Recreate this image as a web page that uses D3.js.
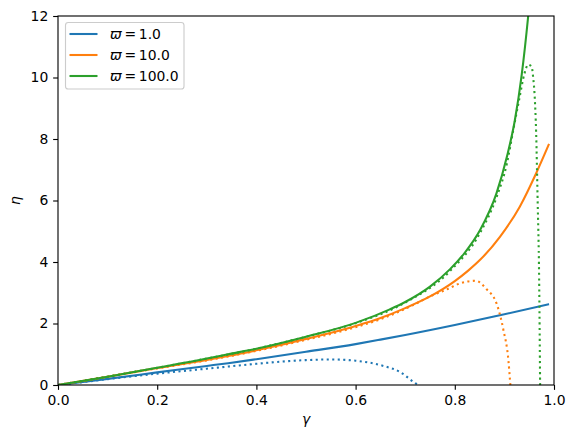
<html>
<head>
  <title>eta vs gamma</title>
  <script src="https://d3js.org/d3.v7.min.js"></script>
  <style>
    body { margin: 0; background: #fff; }
    svg text { font-family: "DejaVu Sans", sans-serif; fill: #000; }
  </style>
</head>
<body>
<script>
// values
var omegaLabels = ["1.0", "10.0", "100.0"];
var colors = ["#1f77b4", "#ff7f0e", "#2ca02c"];

var gammaBlueSolid = [0, 0.1, 0.2, 0.3, 0.343, 0.4, 0.5, 0.6, 0.65, 0.7, 0.8, 0.9, 0.99];
var etaBlueSolid   = [0, 0.2, 0.41, 0.62, 0.71, 0.84, 1.08, 1.33, 1.475, 1.625, 1.95, 2.3, 2.63];

var gammaBlueDot = [0, 0.1, 0.2, 0.3, 0.343, 0.4, 0.45, 0.5, 0.55, 0.6, 0.656, 0.69, 0.716, 0.726];
var etaBlueDot   = [0, 0.19, 0.37, 0.53, 0.6, 0.69, 0.76, 0.81, 0.83, 0.79, 0.62, 0.42, 0.11, 0];

var gammaOrangeSolid = [0, 0.1, 0.2, 0.3, 0.343, 0.4, 0.5, 0.6, 0.649, 0.7, 0.75, 0.8, 0.827, 0.851, 0.891, 0.931, 0.965, 0.99];
var etaOrangeSolid   = [0, 0.27, 0.55, 0.81, 0.94, 1.13, 1.5, 1.92, 2.17, 2.5, 2.88, 3.38, 3.72, 4.07, 4.82, 5.8, 6.92, 7.84];

var gammaOrangeDot = [0, 0.1, 0.2, 0.3, 0.4, 0.5, 0.6, 0.65, 0.716, 0.75, 0.784, 0.81, 0.842, 0.865, 0.884, 0.898, 0.908, 0.912];
var etaOrangeDot   = [0, 0.27, 0.54, 0.8, 1.11, 1.47, 1.88, 2.14, 2.6, 2.88, 3.11, 3.3, 3.39, 3.1, 2.66, 1.79, 0.81, 0];

var gammaGreenSolid = [0, 0.1, 0.2, 0.3, 0.343, 0.4, 0.5, 0.6, 0.669, 0.7, 0.75, 0.79, 0.82, 0.851, 0.884, 0.905, 0.921, 0.935, 0.948, 0.955];
var etaGreenSolid   = [0, 0.27, 0.56, 0.86, 1.0, 1.18, 1.57, 2.02, 2.46, 2.7, 3.2, 3.76, 4.3, 5.04, 6.23, 7.42, 8.6, 10.1, 12.0, 13.2];

var gammaGreenDot = [0, 0.1, 0.2, 0.3, 0.4, 0.5, 0.6, 0.7, 0.79, 0.851, 0.884, 0.905, 0.918, 0.93, 0.94, 0.948, 0.955, 0.958, 0.961, 0.964, 0.967, 0.97, 0.972];
var etaGreenDot   = [0, 0.27, 0.56, 0.86, 1.18, 1.57, 2.01, 2.68, 3.7, 4.95, 6.1, 7.2, 8.3, 9.3, 10.1, 10.42, 10.35, 10.0, 9.4, 8.2, 6.0, 3.5, 0];

var xTicks = [0, 0.2, 0.4, 0.6, 0.8, 1.0];
var yTicks = [0, 2, 4, 6, 8, 10, 12];

var curves = [
  {g: gammaBlueSolid, e: etaBlueSolid, c: 0, dot: false},
  {g: gammaBlueDot, e: etaBlueDot, c: 0, dot: true},
  {g: gammaOrangeSolid, e: etaOrangeSolid, c: 1, dot: false},
  {g: gammaOrangeDot, e: etaOrangeDot, c: 1, dot: true},
  {g: gammaGreenSolid, e: etaGreenSolid, c: 2, dot: false},
  {g: gammaGreenDot, e: etaGreenDot, c: 2, dot: true}
];

var width = 574, height = 439;
var mLeft = 58, mRight = 554, mTop = 16, mBottom = 385;
var fs = 13.9, lw = 2.08;

var svg = d3.select("body").append("svg")
  .attr("width", width)
  .attr("height", height);

var x = d3.scaleLinear().domain([0, 1]).range([mLeft, mRight]);
var y = d3.scaleLinear().domain([0, 12]).range([mBottom, mTop]);

svg.append("clipPath").attr("id", "plotclip")
  .append("rect")
  .attr("x", mLeft).attr("y", mTop)
  .attr("width", mRight - mLeft).attr("height", mBottom - mTop);

var line = d3.line()
  .x(d => x(d[0]))
  .y(d => y(d[1]))
  .curve(d3.curveMonotoneX);

var plot = svg.append("g").attr("clip-path", "url(#plotclip)");
curves.forEach(function(cv) {
  var pts = cv.g.map((g, i) => [g, cv.e[i]]);
  plot.append("path")
    .attr("d", line(pts))
    .attr("fill", "none")
    .attr("stroke", colors[cv.c])
    .attr("stroke-width", lw)
    .attr("stroke-dasharray", cv.dot ? "2.08,3.43" : null);
});

// axes
svg.append("g")
  .attr("transform", "translate(0," + mBottom + ")")
  .call(d3.axisBottom(x).tickValues(xTicks).tickFormat(d3.format(".1f"))
    .tickSize(4.86).tickPadding(4.86).tickSizeOuter(0));
svg.append("g")
  .attr("transform", "translate(" + mLeft + ",0)")
  .call(d3.axisLeft(y).tickValues(yTicks).tickFormat(d3.format("d"))
    .tickSize(4.86).tickPadding(4.86).tickSizeOuter(0));

svg.selectAll(".domain").remove();
svg.selectAll(".tick line").attr("stroke", "#000").attr("stroke-width", 1.11);
svg.selectAll(".tick text")
  .attr("font-family", null)
  .attr("font-size", null)
  .style("font-size", fs + "px");

svg.append("rect")
  .attr("x", mLeft).attr("y", mTop)
  .attr("width", mRight - mLeft).attr("height", mBottom - mTop)
  .attr("fill", "none")
  .attr("stroke", "#000")
  .attr("stroke-width", 1.11);

// axis labels
svg.append("text")
  .attr("x", (mLeft + mRight) / 2)
  .attr("y", 424)
  .attr("text-anchor", "middle")
  .style("font-size", fs + "px")
  .style("font-style", "italic")
  .text("γ");

svg.append("text")
  .attr("transform", "translate(20," + (mTop + mBottom) / 2 + ") rotate(-90)")
  .attr("text-anchor", "middle")
  .style("font-size", fs + "px")
  .style("font-style", "italic")
  .text("η");

// legend
var legend = svg.append("g");
legend.append("rect")
  .attr("x", 65.5).attr("y", 22.5)
  .attr("width", 118.5).attr("height", 66.5)
  .attr("rx", 2.8)
  .attr("fill", "#fff").attr("fill-opacity", 0.8)
  .attr("stroke", "#cccccc").attr("stroke-width", 1.11);

omegaLabels.forEach(function(lab, i) {
  var ly = 34 + i * 21;
  legend.append("line")
    .attr("x1", 69.5).attr("x2", 97.5)
    .attr("y1", ly).attr("y2", ly)
    .attr("stroke", colors[i]).attr("stroke-width", lw);
  var t = legend.append("text")
    .attr("x", 110).attr("y", ly + 5)
    .style("font-size", fs + "px");
  t.append("tspan").style("font-style", "italic").text("ϖ");
  t.append("tspan").text("\u2009=\u2009" + lab);
});
</script>
</body>
</html>
